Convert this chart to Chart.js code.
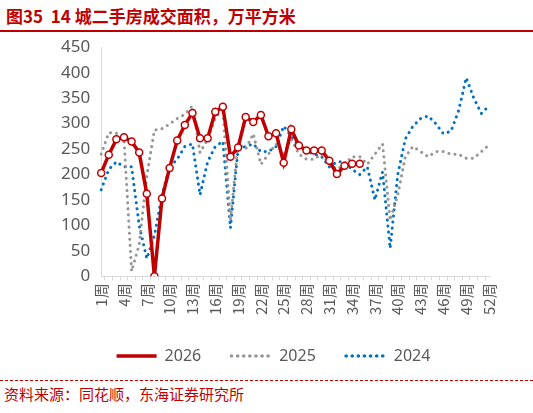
<!DOCTYPE html>
<html><head><meta charset="utf-8">
<script src="https://cdn.jsdelivr.net/npm/chart.js@4"></script>
<style>
body{margin:0;width:533px;height:413px;background:#fff;font-family:"Noto Sans CJK SC","Noto Sans",sans-serif;position:relative;overflow:hidden}
#title{position:absolute;left:6px;top:3px;color:#c00000;font-weight:bold;font-size:17px}
#tline{position:absolute;left:0;top:30px;width:533px;height:2px;background:#c00000}
#wrap{position:absolute;left:0;top:34px;width:533px;height:340px}
#sline{position:absolute;left:0;top:380px;width:533px;border-top:1px dashed #c00000}
#src{position:absolute;left:4px;top:383px;font-size:15px;color:#c00000}
</style></head><body>
<div id="title">图35&nbsp; 14 城二手房成交面积，万平方米</div>
<div id="tline"></div>
<div id="wrap"><canvas id="c"></canvas></div>
<div id="sline"></div>
<div id="src">资料来源：同花顺，东海证券研究所</div>
<script>
// weeks 1..52
const weeks = Array.from({length: 52}, (_, i) => (i + 1) + "周");
const y2026 = [203,239,269,273,265,243,162,0,153,213,267,297,321,271,271,323,333,235,253,313,303,317,275,281,223,289,257,247,247,247,227,201,217,221,221];
const y2025 = [240,282,281,270,10,62,197,287,290,299,310,318,335,243,270,310,330,110,260,250,280,220,240,260,240,270,240,230,230,240,220,210,220,235,235,220,240,260,110,160,235,255,245,235,245,245,240,240,232,232,245,258];
const y2024 = [170,210,225,215,215,100,35,80,160,215,230,255,260,160,225,255,265,95,250,255,260,245,245,255,295,275,255,245,240,235,215,225,225,210,200,215,150,205,55,200,270,295,310,315,300,280,285,325,390,350,320,335];
const yTicks = [0,50,100,150,200,250,300,350,400,450];

const dotted = (label, data, color) => ({
  label, data, borderColor: color, backgroundColor: color,
  borderWidth: 3, borderDash: [0.1, 6], borderCapStyle: "round",
  pointRadius: 0, tension: 0, order: 2
});

new Chart(document.getElementById("c"), {
  type: "line",
  data: {
    labels: weeks,
    datasets: [
      {
        label: "2026", data: y2026, borderColor: "#c00000", borderWidth: 3.5,
        pointRadius: 3.5, pointBackgroundColor: "#fff", pointBorderColor: "#c00000",
        pointBorderWidth: 1.5, tension: 0, order: 0
      },
      dotted("2025", y2025, "#969696"),
      dotted("2024", y2024, "#0070c0")
    ]
  },
  options: {
    responsive: true, maintainAspectRatio: false, animation: false,
    layout: { padding: { left: 58, right: 44, top: 2, bottom: 0 } },
    scales: {
      y: {
        min: 0, max: 450, afterBuildTicks: a => { a.ticks = yTicks.map(v => ({value: v})); },
        grid: { display: false }, border: { color: "#d9d9d9" },
        ticks: { color: "#595959", font: { size: 17, family: "Noto Sans" } }
      },
      x: {
        grid: { drawOnChartArea: false, drawTicks: true, tickLength: 4, color: "#d9d9d9", offset: true },
        border: { color: "#d9d9d9" },
        ticks: {
          color: "#595959", font: { size: 15, family: "Noto Sans CJK SC" },
          maxRotation: 90, minRotation: 90, autoSkip: false,
          callback: (v, i) => i % 3 === 0 ? weeks[i] : ""
        }
      }
    },
    plugins: {
      legend: {
        position: "bottom",
        labels: {
          color: "#595959", font: { size: 16, family: "Noto Sans" },
          boxWidth: 40, boxHeight: 0, padding: 30
        }
      }
    }
  }
});
</script>
</body></html>
